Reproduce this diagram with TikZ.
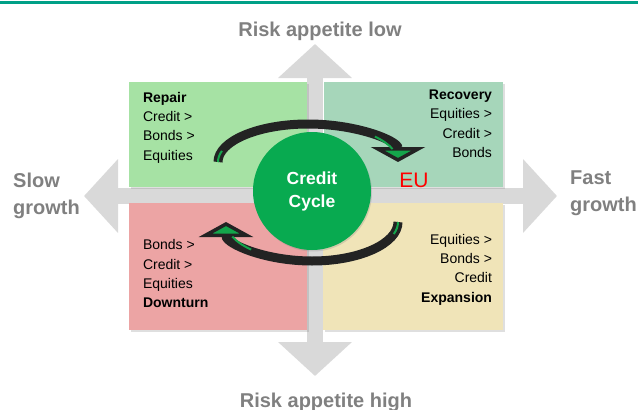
\documentclass[tikz,border=0pt]{standalone}
\usepackage{fontspec}
\setmainfont{Liberation Sans}
\usetikzlibrary{arrows.meta,positioning,calc,shadows}
\definecolor{axisgrey}{RGB}{217,217,217}
\definecolor{labelgrey}{RGB}{128,128,128}
\definecolor{rulecolour}{RGB}{0,160,135}
\definecolor{repairfill}{RGB}{166,226,164}
\definecolor{recoveryfill}{RGB}{166,214,186}
\definecolor{downturnfill}{RGB}{236,164,164}
\definecolor{expansionfill}{RGB}{240,228,184}
\definecolor{cyclegreen}{RGB}{8,170,80}
\definecolor{arrowgreen}{RGB}{20,165,75}
\definecolor{arrowblack}{RGB}{35,35,35}
\tikzset{
	axis arrow/.style={line width=16pt, axisgrey, {Triangle[width=72pt,length=34pt]}-{Triangle[width=72pt,length=34pt]}},
	quadrant/.style={inner sep=0pt, minimum height=#1, drop shadow={shadow xshift=1.5pt, shadow yshift=-1.5pt, opacity=0.25}},
	phase text/.style={inner sep=0pt, font=\fontsize{14}{19.3}\selectfont},
	side label/.style={inner sep=0pt, labelgrey, font=\fontsize{20}{27}\selectfont\bfseries},
	cycle arrow/.style={line width=9pt, arrowblack, -{Triangle[width=54pt,length=15pt,line width=3.5pt,fill=arrowgreen]}},
	cycle stripe/.style={line width=2pt, arrowgreen},
}
\begin{document}
\begin{tikzpicture}[x=1pt,y=-1pt]
	\useasboundingbox (0,0) rectangle (638,410);
	\draw [rulecolour, line width=3pt] (0,2.5) -- (638,2.5);
	% growth / risk axes
	\coordinate (up) at (315,44);
	\coordinate (down) at (315,376);
	\coordinate (left) at (84,196);
	\coordinate (right) at (557,196);
	\draw [axis arrow] (down) -- (up);
	\draw [axis arrow] (left) -- (right);
	% phases
	\node [quadrant=105pt, fill=repairfill, minimum width=178pt] (repair) at (218,134.5) {};
	\node [quadrant=105pt, fill=recoveryfill, minimum width=179pt] (recovery) at (413.5,134.5) {};
	\node [quadrant=127pt, fill=downturnfill, minimum width=178pt] (downturn) at (218,266.5) {};
	\node [quadrant=127pt, fill=expansionfill, minimum width=180pt] (expansion) at (413,266.5) {};
	\node [phase text, align=left, below right=10pt and 14pt of repair.north west] (repairtext) {\textbf{Repair}\\Credit >\\Bonds >\\Equities};
	\node [phase text, align=right, below left=8pt and 11pt of recovery.north east] (recoverytext) {\textbf{Recovery}\\Equities >\\Credit >\\Bonds};
	\node [phase text, align=left, above right=22pt and 14pt of downturn.south west] (downturntext) {Bonds >\\Credit >\\Equities\\\textbf{Downturn}};
	\node [phase text, align=right, above left=25pt and 11pt of expansion.south east] (expansiontext) {Equities >\\Bonds >\\Credit\\\textbf{Expansion}};
	\node [circle, fill=cyclegreen, minimum size=118pt, inner sep=0pt, text=white, align=center, font=\fontsize{17.5}{23}\selectfont\bfseries, drop shadow={shadow xshift=1pt, shadow yshift=-1.5pt, opacity=0.25}] (credit) at (312,191) {Credit\\Cycle};
	\node [red, inner sep=0pt, anchor=base, font=\fontsize{21}{21}\selectfont] (eu) at (414,187) {EU};
	% cycle arrows
	\coordinate (toptail) at (218,162);
	\coordinate (topmid) at ($(toptail)+(90pt,0pt)$);
	\coordinate (bottail) at (398,222);
	\coordinate (botmid) at ($(bottail)+(-88pt,0pt)$);
	\draw [cycle arrow] (toptail) arc [start angle=180, end angle=0, x radius=90pt, y radius=38pt];
	\draw [cycle stripe] (toptail) arc [start angle=180, end angle=163, x radius=90pt, y radius=38pt];
	\draw [cycle stripe] ($(topmid)+(42:90pt and 38pt)$) arc [start angle=42, end angle=20, x radius=90pt, y radius=38pt];
	\draw [cycle arrow] (bottail) arc [start angle=0, end angle=-180, x radius=86pt, y radius=39pt];
	\draw [cycle stripe] (bottail) arc [start angle=0, end angle=-18, x radius=86pt, y radius=39pt];
	\draw [cycle stripe] ($(botmid)+(2pt,0pt)+(-135:86pt and 39pt)$) arc [start angle=-135, end angle=-158, x radius=86pt, y radius=39pt];
	% axis labels
	\node [side label, anchor=base] (low) at (320,36.5) {Risk appetite low};
	\node [side label, anchor=base] (high) at (326,407) {Risk appetite high};
	\node [side label, align=left, anchor=north west] (slow) at (13,173) {Slow\\growth};
	\node [side label, align=left, anchor=north west] (fast) at (570,171) {Fast\\growth};
\end{tikzpicture}
\end{document}
